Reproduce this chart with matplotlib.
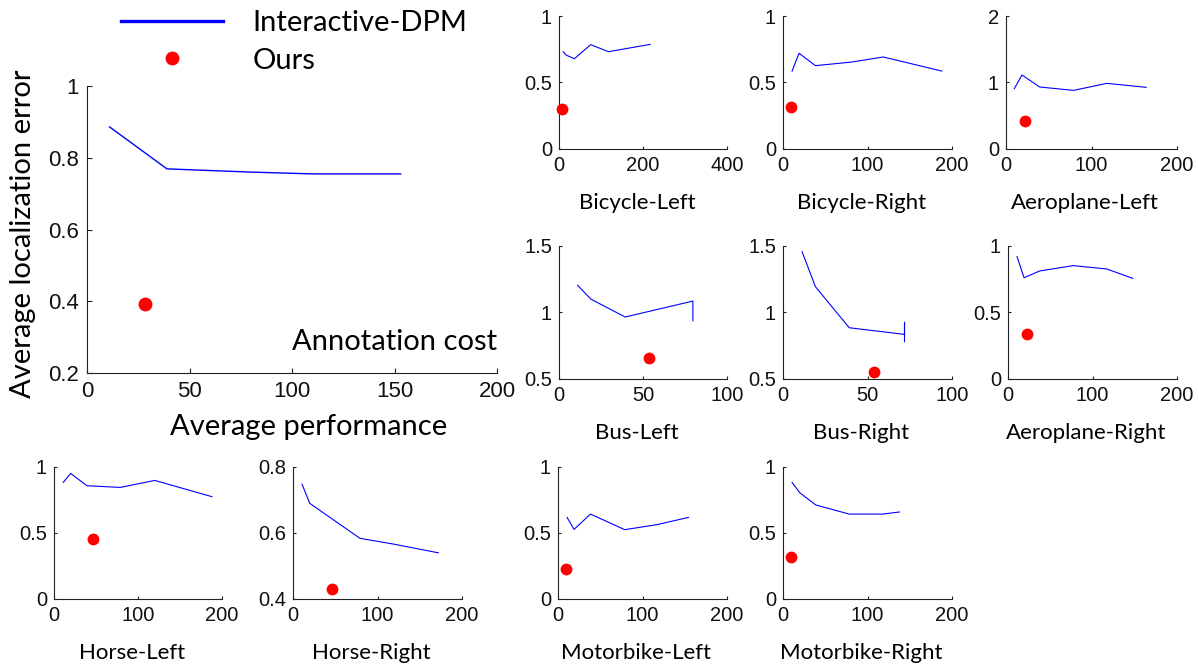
import matplotlib
matplotlib.use("Agg")
import matplotlib.pyplot as plt
from matplotlib.lines import Line2D
from matplotlib.ticker import FuncFormatter

# ---- data ----
avg_x = [11, 39, 80, 110, 153]
avg_y = [0.886, 0.769, 0.760, 0.755, 0.755]
avg_ours = (28.4, 0.393)

bicycle_left_x = [10.3, 16.7, 36.6, 75.5, 117.7, 217]
bicycle_left_y = [0.731, 0.706, 0.678, 0.784, 0.731, 0.786]
bicycle_left_ours = (6.4, 0.30)

bicycle_right_x = [10.7, 19, 38.4, 80, 118.8, 188]
bicycle_right_y = [0.585, 0.719, 0.626, 0.652, 0.691, 0.585]
bicycle_right_ours = (9.9, 0.312)

aeroplane_left_x = [9.7, 18.7, 39.4, 79, 118, 164]
aeroplane_left_y = [0.905, 1.111, 0.930, 0.879, 0.985, 0.925]
aeroplane_left_ours = (22.6, 0.412)

bus_left_x = [11.1, 18.9, 39.4, 79.7, 79.7]
bus_left_y = [1.204, 1.100, 0.965, 1.085, 0.937]
bus_left_ours = (53.7, 0.653)

bus_right_x = [11.3, 19.2, 39.2, 71.9, 71.9, 71.9]
bus_right_y = [1.457, 1.193, 0.884, 0.834, 0.925, 0.779]
bus_right_ours = (53.9, 0.548)

aeroplane_right_x = [10.7, 19, 37.6, 77.2, 116.8, 147.7]
aeroplane_right_y = [0.920, 0.761, 0.812, 0.852, 0.827, 0.756]
aeroplane_right_ours = (23, 0.339)

horse_left_x = [11, 19.8, 39.2, 78.8, 120, 188]
horse_left_y = [0.881, 0.949, 0.856, 0.843, 0.896, 0.773]
horse_left_ours = (46.7, 0.45)

horse_right_x = [10.7, 19.8, 79.2, 120, 172]
horse_right_y = [0.747, 0.689, 0.583, 0.565, 0.539]
horse_right_ours = (46.3, 0.43)

motorbike_left_x = [10.7, 19, 38.4, 79, 117, 154.5]
motorbike_left_y = [0.616, 0.525, 0.641, 0.523, 0.561, 0.616]
motorbike_left_ours = (9, 0.222)

motorbike_right_x = [10.7, 19.8, 38.8, 78.4, 118, 137.8]
motorbike_right_y = [0.881, 0.803, 0.710, 0.641, 0.641, 0.657]
motorbike_right_ours = (9, 0.316)

# tick values per panel
ticks_0_1 = [0, 0.5, 1]
ticks_0_2 = [0, 1, 2]
ticks_bus = [0.5, 1, 1.5]
ticks_horse_r = [0.4, 0.6, 0.8]
xt_400 = [0, 200, 400]
xt_200 = [0, 100, 200]
xt_100 = [0, 50, 100]

W, H = 1199, 664
BLUE = "#0000ff"
RED = "#ff0000"
LABEL_FONT = ["Lato", "DejaVu Sans"]

plt.rcParams["font.family"] = ["Liberation Sans", "DejaVu Sans"]

fig = plt.figure(figsize=(W / 100, H / 100), dpi=100)

fmt = FuncFormatter(lambda v, p: f"{v:g}")


def px_axes(left, right, top, bottom):
    return fig.add_axes([left / W, 1 - bottom / H, (right - left) / W, (bottom - top) / H])


def style(ax, xt, yt, tick_size, tlen):
    for s in ["top", "right"]:
        ax.spines[s].set_visible(False)
    for s in ["left", "bottom"]:
        ax.spines[s].set_linewidth(0.8)
        ax.spines[s].set_color("#222222")
    ax.set_xlim(xt[0], xt[-1])
    ax.set_ylim(yt[0], yt[-1])
    ax.set_xticks(xt)
    ax.set_yticks(yt)
    ax.xaxis.set_major_formatter(fmt)
    ax.yaxis.set_major_formatter(fmt)
    ax.tick_params(direction="in", length=tlen, width=0.8, color="#222222", pad=5,
                   labelsize=tick_size, labelcolor="#111111")
    ax.patch.set_alpha(0)


# ---- main panel ----
ax = px_axes(87, 497, 86, 373)
ax.plot(avg_x, avg_y, color=BLUE, lw=1.0)
ax.plot([avg_ours[0]], [avg_ours[1]], "o", color=RED, ms=10, mec="none", clip_on=False, zorder=5)
style(ax, [0, 50, 100, 150, 200], [0.2, 0.4, 0.6, 0.8, 1.0], 16, 3.6)
ax.tick_params(pad=6)
ax.set_xlabel("Average performance", family=LABEL_FONT, fontsize=21, va="baseline")
ax.xaxis.set_label_coords(0.541, -0.216)
ax.set_ylabel("Average localization error", family=LABEL_FONT, fontsize=21)
ax.yaxis.set_label_coords(-0.125, 0.484)
ax.text(1.0, 0.08, "Annotation cost", transform=ax.transAxes, ha="right", va="baseline",
        family=LABEL_FONT, fontsize=21)

handles = [Line2D([], [], color=BLUE, lw=2.4),
           Line2D([], [], ls="none", marker="o", color=RED, ms=10, mec="none")]
fig.legend(handles, ["Interactive-DPM", "Ours"], loc="upper left",
           bbox_to_anchor=(121 / W, 1 - 10 / H), frameon=False, borderpad=0,
           borderaxespad=0, handlelength=3.5, handletextpad=1.0, labelspacing=0.4,
           prop={"family": LABEL_FONT, "size": 21})

# ---- small panels ----
panels = [
    ("Bicycle-Left", (559, 727, 16, 148.7), bicycle_left_x, bicycle_left_y, bicycle_left_ours, xt_400, ticks_0_1),
    ("Bicycle-Right", (783, 952, 16, 148.7), bicycle_right_x, bicycle_right_y, bicycle_right_ours, xt_200, ticks_0_1),
    ("Aeroplane-Left", (1006, 1177, 16, 148.7), aeroplane_left_x, aeroplane_left_y, aeroplane_left_ours, xt_200, ticks_0_2),
    ("Bus-Left", (559, 727, 246, 378.7), bus_left_x, bus_left_y, bus_left_ours, xt_100, ticks_bus),
    ("Bus-Right", (783, 952, 246, 378.7), bus_right_x, bus_right_y, bus_right_ours, xt_100, ticks_bus),
    ("Aeroplane-Right", (1008, 1177, 246, 378.7), aeroplane_right_x, aeroplane_right_y, aeroplane_right_ours, xt_200, ticks_0_1),
    ("Horse-Left", (54, 222, 466.7, 598.7), horse_left_x, horse_left_y, horse_left_ours, xt_200, ticks_0_1),
    ("Horse-Right", (293, 462, 466.7, 598.7), horse_right_x, horse_right_y, horse_right_ours, xt_200, ticks_horse_r),
    ("Motorbike-Left", (558, 727, 466.7, 598.7), motorbike_left_x, motorbike_left_y, motorbike_left_ours, xt_200, ticks_0_1),
    ("Motorbike-Right", (783, 952, 466.7, 598.7), motorbike_right_x, motorbike_right_y, motorbike_right_ours, xt_200, ticks_0_1),
]

for name, box, xs, ys, ours, xt, yt in panels:
    a = px_axes(*box)
    a.plot(xs, ys, color=BLUE, lw=0.8)
    a.plot([ours[0]], [ours[1]], "o", color=RED, ms=8.5, mec="none", clip_on=False, zorder=5)
    style(a, xt, yt, 14.5, 2.2)
    a.set_xlabel(name, family=LABEL_FONT, fontsize=16, va="baseline")
    a.xaxis.set_label_coords(0.464, -60 / (box[3] - box[2]))

fig.savefig("out.png", dpi=100)
